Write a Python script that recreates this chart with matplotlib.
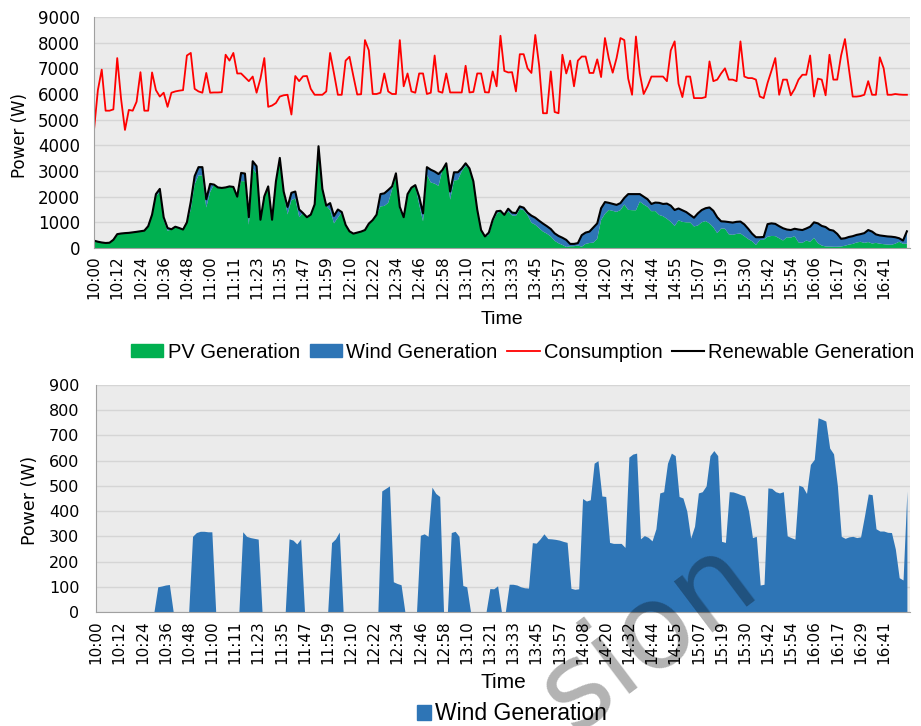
import numpy as np
import matplotlib.pyplot as plt
from matplotlib.patches import Patch
from matplotlib.lines import Line2D

# ---------------------------------------------------------------
# Data (one sample every ~2 minutes)
time_labels = ['10:00', '10:12', '10:24', '10:36', '10:48', '11:00', '11:11', '11:23',
               '11:35', '11:47', '11:59', '12:10', '12:22', '12:34', '12:46', '12:58',
               '13:10', '13:21', '13:33', '13:45', '13:57', '14:08', '14:20', '14:32',
               '14:44', '14:55', '15:07', '15:19', '15:30', '15:42', '15:54', '16:06',
               '16:17', '16:29', '16:41']

consumption = [4600, 6150, 6950, 5350, 5350, 5400, 7400, 5800, 4600, 5380,
               5350, 5700, 6850, 5350, 5350, 6840, 6150, 5900, 6050, 5500,
               6050, 6100, 6130, 6150, 7500, 7600, 6200, 6100, 6050, 6820,
               6050, 6060, 6060, 6070, 7530, 7300, 7600, 6800, 6800, 6650,
               6500, 6680, 6050, 6600, 7400, 5500, 5550, 5650, 5900, 5950,
               5970, 5200, 6700, 6500, 6690, 6700, 6200, 5970, 5970, 5970,
               6100, 7600, 6800, 5970, 5970, 7300, 7450, 6700, 5980, 5990,
               8100, 7700, 6000, 6000, 6050, 6800, 6100, 6000, 6000, 8100,
               6300, 6800, 6100, 6050, 6800, 6800, 6000, 6050, 7500, 6100,
               6050, 6800, 6060, 6060, 6060, 6060, 7100, 6060, 6080, 6800,
               6800, 6070, 6060, 6880, 6300, 8270, 6900, 6840, 6850, 6100,
               7550, 7550, 7000, 6820, 8300, 7100, 5250, 5250, 6880, 5300,
               5250, 7530, 6800, 7300, 6300, 7300, 7460, 7460, 6820, 6820,
               7350, 6660, 8180, 7380, 6830, 7400, 8180, 8100, 6600, 5970,
               8240, 6800, 6000, 6300, 6680, 6680, 6680, 6680, 6500, 7700,
               8050, 6400, 5880, 6680, 6680, 5840, 5840, 5840, 5880, 7270,
               6500, 6560, 6800, 7000, 6560, 6560, 6500, 8050, 6680, 6620,
               6620, 6560, 5900, 5840, 6430, 6900, 7400, 5970, 6560, 6560,
               5950, 6200, 6560, 6750, 6750, 7500, 5900, 6600, 6560, 5950,
               7530, 6560, 6560, 7500, 8140, 7000, 5900, 5900, 5920, 5970,
               6500, 5970, 5970, 7430, 7000, 5970, 5970, 6000, 5980, 5970, 5970]

pv_generation = [286, 245, 215, 195, 205, 320, 540, 565, 580, 590,
                 610, 630, 655, 676, 850, 1300, 2000, 2200, 1090, 670,
                 730, 830, 780, 720, 1000, 1500, 2485, 2830, 2830, 1580,
                 2180, 2470, 2360, 2340, 2360, 2400, 2380, 2000, 2607, 2600,
                 905, 3088, 2896, 1100, 2015, 2400, 1100, 2600, 3510, 2200,
                 1310, 1865, 1930, 1210, 1360, 1200, 1300, 1700, 3965, 2300,
                 1650, 1475, 960, 1183, 1400, 900, 650, 560, 600, 640,
                 700, 950, 1090, 1300, 1620, 1640, 1760, 2280, 2797, 1492,
                 1200, 2100, 2350, 2450, 1696, 1040, 2850, 2555, 2510, 2422,
                 3040, 3300, 1885, 2630, 2650, 2995, 3200, 3100, 2600, 1500,
                 700, 450, 507, 1008, 1326, 1450, 1290, 1420, 1270, 1253,
                 1520, 1474, 1285, 985, 907, 770, 640, 559, 450, 282,
                 185, 120, 40, 66, 70, 98, 50, 160, 195, 210,
                 360, 1090, 1332, 1484, 1448, 1408, 1478, 1694, 1486, 1474,
                 1470, 1810, 1697, 1604, 1434, 1440, 1288, 1239, 1140, 1020,
                 860, 1082, 1018, 1000, 997, 840, 878, 1003, 1050, 960,
                 810, 580, 760, 754, 533, 514, 549, 565, 460, 350,
                 265, 120, 313, 320, 438, 470, 463, 378, 293, 418,
                 405, 461, 217, 203, 290, 245, 395, 190, 96, 60,
                 60, 50, 50, 60, 88, 132, 160, 215, 242, 200,
                 232, 175, 200, 169, 149, 134, 125, 170, 244, 163, 170]

wind_generation = [0, 0, 0, 0, 0, 0, 0, 0, 0, 0,
                   0, 0, 0, 0, 0, 0, 100, 103, 107, 109,
                   0, 0, 0, 0, 0, 300, 315, 320, 320, 318,
                   318, 0, 0, 0, 0, 0, 0, 0, 318, 300,
                   295, 292, 289, 0, 0, 0, 0, 0, 0, 0,
                   290, 285, 270, 290, 0, 0, 0, 0, 0, 0,
                   0, 275, 290, 317, 0, 0, 0, 0, 0, 0,
                   0, 0, 0, 0, 480, 490, 500, 120, 113, 108,
                   0, 0, 0, 0, 304, 310, 300, 495, 470, 458,
                   0, 0, 315, 320, 300, 105, 100, 0, 0, 0,
                   0, 0, 93, 92, 104, 0, 0, 110, 110, 107,
                   100, 96, 95, 275, 273, 290, 310, 291, 290, 288,
                   285, 280, 276, 94, 90, 92, 450, 440, 445, 590,
                   600, 460, 458, 276, 272, 272, 272, 256, 614, 626,
                   630, 290, 303, 296, 282, 330, 472, 477, 590, 630,
                   620, 458, 452, 400, 293, 340, 472, 477, 500, 620,
                   640, 620, 280, 276, 477, 476, 471, 465, 460, 400,
                   295, 300, 107, 110, 492, 490, 477, 472, 477, 302,
                   295, 289, 503, 497, 470, 585, 605, 770, 764, 757,
                   650, 627, 500, 300, 292, 298, 300, 295, 298, 380,
                   468, 465, 330, 321, 321, 316, 315, 250, 136, 127, 480]

pv = np.array(pv_generation, dtype=float)
wind = np.array(wind_generation, dtype=float)
renewable = pv + wind
x = np.arange(len(pv))
label_step = 6
tick_pos = x[:len(time_labels) * label_step:label_step]

# ---------------------------------------------------------------
green = '#00b050'
blue = '#2e75b6'
narrow = ['Liberation Sans', 'DejaVu Sans']
plt.rcParams['font.family'] = ['DejaVu Sans']

fig = plt.figure(figsize=(9.21, 7.26), dpi=100)
ax1 = fig.add_axes([94/921, 1-248/726, (910-94)/921, (248-17)/726])
ax2 = fig.add_axes([96/921, 1-612/726, (910-96)/921, (612-385)/726])

for ax in (ax1, ax2):
    ax.set_facecolor('#ebebeb')
    ax.grid(axis='y', color='#d5d5d5', lw=1)
    ax.set_axisbelow(True)
    ax.spines['top'].set_visible(False)
    ax.spines['right'].set_visible(False)
    ax.spines['left'].set_color('#a0a0a0')
    ax.spines['bottom'].set_color('#a0a0a0')
    ax.set_xticks(tick_pos)
    ax.set_xticklabels(time_labels, rotation=90, fontsize=11)
    ax.tick_params(length=0)
    ax.set_xlim(0, 210.8)

# top chart
ax1.stackplot(x, pv, wind, colors=[green, blue], lw=0)
ax1.plot(x, consumption, color='#ff0000', lw=1.3)
ax1.plot(x, renewable, color='black', lw=1.5)
ax1.set_ylim(0, 9000)
ax1.set_yticks(np.arange(0, 9001, 1000))
ax1.tick_params(axis='y', labelsize=12, pad=10)
ax1.tick_params(axis='x', pad=5)

# bottom chart
ax2.fill_between(x, 0, wind, color=blue, lw=0)
ax2.set_ylim(0, 900)
ax2.set_yticks(np.arange(0, 901, 100))
ax2.tick_params(axis='y', labelsize=11.5, pad=12)
ax2.tick_params(axis='x', pad=6)

# labels
fig.text(502/921, 1-319/726, 'Time', ha='center', va='center', fontsize=14, family=narrow)
fig.text(503/921, 1-683/726, 'Time', ha='center', va='center', fontsize=15, family=narrow)
fig.text(20/921, 1-135/726, 'Power (W)', ha='center', va='center', rotation=90, fontsize=12)
fig.text(30/921, 1-500/726, 'Power (W)', ha='center', va='center', rotation=90, fontsize=12.5)

handles = [Patch(color=green), Patch(color=blue),
           Line2D([], [], color='#ff0000', lw=1.3), Line2D([], [], color='black', lw=1.5)]
fig.legend(handles, ['PV Generation', 'Wind Generation', 'Consumption', 'Renewable Generation'],
           loc='center', bbox_to_anchor=(523/921, 1-352/726), ncol=4, frameon=False,
           prop={'family': narrow, 'size': 14.5}, handlelength=1.6, handleheight=0.6,
           handletextpad=0.2, columnspacing=0.5)
fig.legend([Patch(color=blue)], ['Wind Generation'], loc='center',
           bbox_to_anchor=(512/921, 1-714/726), frameon=False,
           prop={'family': narrow, 'size': 16.5}, handlelength=0.6, handleheight=0.6,
           handletextpad=0.2)

# watermark (only its tail is visible in the source image)
fig.text(648/921, 1-636/726, 'sion', ha='center', va='center', rotation=37,
         rotation_mode='anchor', fontsize=84, color='black', alpha=0.3)

fig.savefig('out.png', dpi=100)
